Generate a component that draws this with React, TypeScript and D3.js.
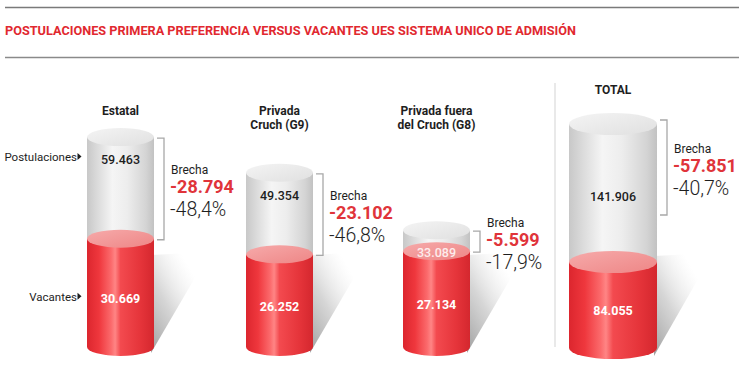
import React from "react";
import * as d3 from "d3";

const categories: string[][] = [
  ["Estatal"],
  ["Privada", "Cruch (G9)"],
  ["Privada fuera", "del Cruch (G8)"],
  ["TOTAL"],
];
const postulaciones = [59463, 49354, 33089, 141906];
const vacantes = [30669, 26252, 27134, 84055];
const brecha = [-28794, -23102, -5599, -57851];
const brechaPct = [-48.4, -46.8, -17.9, -40.7];
const title =
  "POSTULACIONES PRIMERA PREFERENCIA VERSUS VACANTES UES SISTEMA UNICO DE ADMISIÓN";

// layout (not data)
const W = 739;
const H = 377;
const centers = [120.5, 279.5, 436.5, 613];
const widths = [67, 67, 67, 88];
const radiiY = [9, 9, 9, 11];
const baselines = [347, 347, 347, 348];
const labelTops = [115, 115, 115, 94];

const locale = d3.formatLocale({
  decimal: ",",
  thousands: ".",
  grouping: [3],
  currency: ["$", ""],
  minus: "-",
});
const fmtInt = locale.format(",d");
const fmtPct = locale.format(".1f");

// scales: the three groups share one; TOTAL is drawn on its own (compressed) scale
const groupScale = d3.scaleLinear().domain([0, 60000]).range([0, 211.8]);
const totalScale = d3
  .scaleLinear()
  .domain([0, vacantes[3], postulaciones[3]])
  .range([0, 86, 224]);
const scales = [groupScale, groupScale, groupScale, totalScale];

const FONT = "Roboto, 'Noto Sans', sans-serif";

export default function App() {
  return (
    <svg
      width={W}
      height={H}
      style={{ position: "absolute", left: 0, top: 0, background: "#fff" }}
      fontFamily={FONT}
    >
      <defs>
        <linearGradient id="grayG" x1="0" x2="1" y1="0" y2="0">
          <stop offset="0" stopColor="#c8c8c8" />
          <stop offset="0.15" stopColor="#dadada" />
          <stop offset="0.38" stopColor="#f5f5f5" />
          <stop offset="0.6" stopColor="#ededed" />
          <stop offset="0.88" stopColor="#d4d4d4" />
          <stop offset="1" stopColor="#c2c2c2" />
        </linearGradient>
        <linearGradient id="grayTopG" x1="0" x2="1" y1="0" y2="1">
          <stop offset="0" stopColor="#f4f4f4" />
          <stop offset="1" stopColor="#e0e0e0" />
        </linearGradient>
        <linearGradient id="redG" x1="0" x2="1" y1="0" y2="0">
          <stop offset="0" stopColor="#dc262e" />
          <stop offset="0.18" stopColor="#ef373d" />
          <stop offset="0.36" stopColor="#fb6a6c" />
          <stop offset="0.42" stopColor="#ff8585" />
          <stop offset="0.5" stopColor="#f34a4f" />
          <stop offset="0.8" stopColor="#e5343a" />
          <stop offset="1" stopColor="#d4272e" />
        </linearGradient>
        <linearGradient id="pinkG" x1="0" x2="1" y1="0" y2="1">
          <stop offset="0" stopColor="#f6aaaa" />
          <stop offset="1" stopColor="#ee8686" />
        </linearGradient>
        <linearGradient
          id="shadowG"
          gradientUnits="objectBoundingBox"
          x1="0"
          y1="1"
          x2="0.75"
          y2="0.25"
        >
          <stop offset="0" stopColor="#8c8c8c" stopOpacity="0.85" />
          <stop offset="0.5" stopColor="#b4b4b4" stopOpacity="0.55" />
          <stop offset="1" stopColor="#e0e0e0" stopOpacity="0" />
        </linearGradient>
      </defs>

      {/* header */}
      <line x1={5} x2={W} y1={7.5} y2={7.5} stroke="#7a7a7a" strokeWidth={1.6} />
      <text
        x={5}
        y={35}
        fontSize={12.5}
        fontWeight={700}
        fill="#e1282f"
        textLength={571}
        lengthAdjust="spacingAndGlyphs"
      >
        {title}
      </text>
      <line x1={5} x2={W} y1={57.5} y2={57.5} stroke="#8a8a8a" strokeWidth={1.6} />

      {/* divider before TOTAL */}
      <line x1={555} x2={555} y1={83} y2={347} stroke="#e2e2e2" strokeWidth={1.5} />

      {categories.map((cat, i) => {
        const cx = centers[i];
        const w = widths[i];
        const rx = w / 2;
        const ry = radiiY[i];
        const yb = baselines[i];
        const s = scales[i];
        const grayTop = yb - s(postulaciones[i]);
        const redTop = yb - s(vacantes[i]);
        const x0 = cx - rx;
        const x1 = cx + rx;

        const brTop = i === 3 ? grayTop - 4 : grayTop + 1;
        const brBot = i === 3 ? 215 : redTop + 1;
        const brX = x1 + 10;
        const mid = (brTop + brBot) / 2;

        const grayLabelY = i === 3 ? (grayTop + redTop) / 2 + 8 : grayTop + 27;
        const redLabelY = (redTop + yb) / 2 + 10;

        const shadowPath = d3.path();
        shadowPath.moveTo(x1 - 3, yb + ry - 3);
        shadowPath.lineTo(x1 - 3, yb - 92);
        shadowPath.lineTo(x1 + 56, yb - 95);
        shadowPath.closePath();

        return (
          <g key={i}>
            <path d={shadowPath.toString()} fill="url(#shadowG)" />
            {/* gray body */}
            <rect x={x0} y={grayTop} width={w} height={redTop - grayTop} fill="url(#grayG)" />
            <ellipse cx={cx} cy={grayTop} rx={rx} ry={ry} fill="url(#grayTopG)" />
            {/* red body */}
            <rect x={x0} y={redTop} width={w} height={yb - redTop} fill="url(#redG)" />
            <ellipse cx={cx} cy={yb} rx={rx} ry={ry} fill="url(#redG)" />
            <ellipse cx={cx} cy={redTop} rx={rx} ry={ry} fill="url(#pinkG)" />

            {/* category label */}
            <text
              x={cx}
              y={labelTops[i]}
              textAnchor="middle"
              fontSize={12}
              fontWeight={700}
              fill="#1e1e1e"
            >
              {cat.map((line, j) => (
                <tspan key={j} x={cx} dy={j === 0 ? 0 : 13.5}>
                  {line}
                </tspan>
              ))}
            </text>

            {/* values */}
            <text
              x={cx}
              y={grayLabelY}
              textAnchor="middle"
              fontSize={12.5}
              fontWeight={500}
              fill={i === 2 ? "#fdecec" : "#1e1e1e"}
            >
              {fmtInt(postulaciones[i])}
            </text>
            <text
              x={cx}
              y={redLabelY}
              textAnchor="middle"
              fontSize={12.5}
              fontWeight={700}
              fill="#ffffff"
            >
              {fmtInt(vacantes[i])}
            </text>

            {/* bracket */}
            <path
              d={`M${brX - 7},${brTop}H${brX}V${brBot}H${brX - 7}`}
              fill="none"
              stroke="#a8a8a8"
              strokeWidth={1.3}
            />
            <text x={brX + 7} y={mid - 15} fontSize={12} fill="#1e1e1e">
              Brecha
            </text>
            <text x={brX + 6} y={mid + 4} fontSize={18} fontWeight={700} fill="#e0343a">
              {fmtInt(brecha[i])}
            </text>
            <text x={brX + 6} y={mid + 27} fontSize={19.5} fontWeight={300} fill="#1e1e1e">
              {fmtPct(brechaPct[i]) + "%"}
            </text>

            {i === 0 && (
              <g fontSize={11.5} fill="#1e1e1e">
                <text x={77} y={grayLabelY - 3} textAnchor="end">
                  Postulaciones
                </text>
                <path d={`M77.5,${grayLabelY - 11}l4,3.5l-4,3.5z`} fill="#1e1e1e" />
                <text x={77} y={redLabelY - 2} textAnchor="end">
                  Vacantes
                </text>
                <path d={`M77.5,${redLabelY - 10}l4,3.5l-4,3.5z`} fill="#1e1e1e" />
              </g>
            )}
          </g>
        );
      })}
    </svg>
  );
}
